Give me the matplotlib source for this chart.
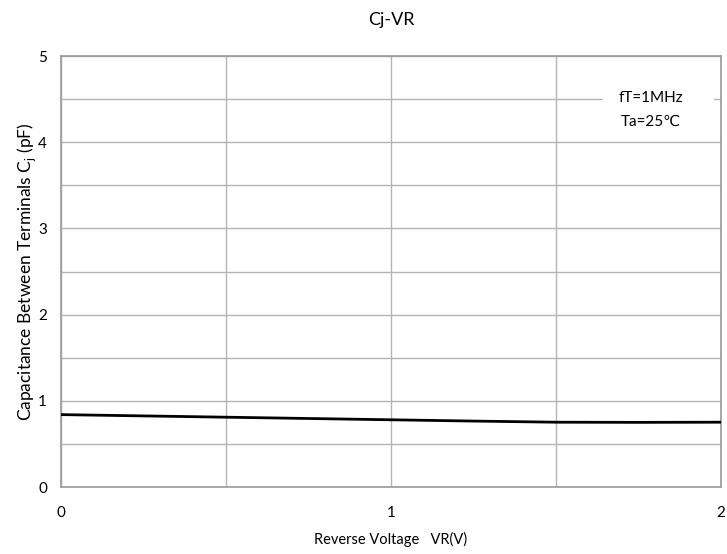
import matplotlib
matplotlib.use("Agg")
import matplotlib.pyplot as plt
from matplotlib.patches import Rectangle
from matplotlib.ticker import MultipleLocator

plt.rcParams['font.family'] = ['Lato', 'DejaVu Sans']

# reverse voltage (V) and junction capacitance (pF)
vr = [0.0, 0.25, 0.5, 0.75, 1.0, 1.25, 1.5, 1.75, 2.0]
cj = [0.84, 0.825, 0.81, 0.795, 0.78, 0.765, 0.752, 0.75, 0.752]

x_ticks = [0, 1, 2]
y_ticks = [0, 1, 2, 3, 4, 5]
notes = ["fT=1MHz", "Ta=25\u2103"]

grid_color = "#b4b4b4"

fig = plt.figure(figsize=(7.27, 5.54), dpi=100)
ax = fig.add_axes([0.0839, 0.1209, 0.9078, 0.778])

ax.plot(vr, cj, color="black", linewidth=2, zorder=5)

ax.set_xlim(0, 2)
ax.set_ylim(0, 5)
ax.set_xticks(x_ticks)
ax.set_yticks(y_ticks)
ax.xaxis.set_minor_locator(MultipleLocator(0.5))
ax.yaxis.set_minor_locator(MultipleLocator(0.5))
ax.grid(which="both", color=grid_color, linewidth=1)
ax.set_axisbelow(True)
ax.tick_params(which="both", length=0, labelsize=11)
ax.tick_params(axis="x", pad=14)
ax.tick_params(axis="y", pad=10)
for s in ax.spines.values():
    s.set_color("#9a9a9a")
    s.set_linewidth(1.2)

ax.set_title("Cj-VR", fontsize=13, pad=22)
ax.set_xlabel("Reverse Voltage   VR(V)", fontsize=10.5, labelpad=8)
ax.set_ylabel("Capacitance Between Terminals C$_\\mathregular{j}$ (pF)", fontsize=12.5, labelpad=0)

# white box behind the test conditions, breaking the gridline
ax.add_patch(Rectangle((0.821, 0.815), 0.168, 0.17, transform=ax.transAxes,
                       facecolor="white", edgecolor="none", zorder=4))
ax.text(0.894, 0.875, notes[0] + "\n" + notes[1], transform=ax.transAxes,
        ha="center", va="center", fontsize=11, linespacing=1.9, zorder=6)

fig.savefig("out.png", dpi=100)
